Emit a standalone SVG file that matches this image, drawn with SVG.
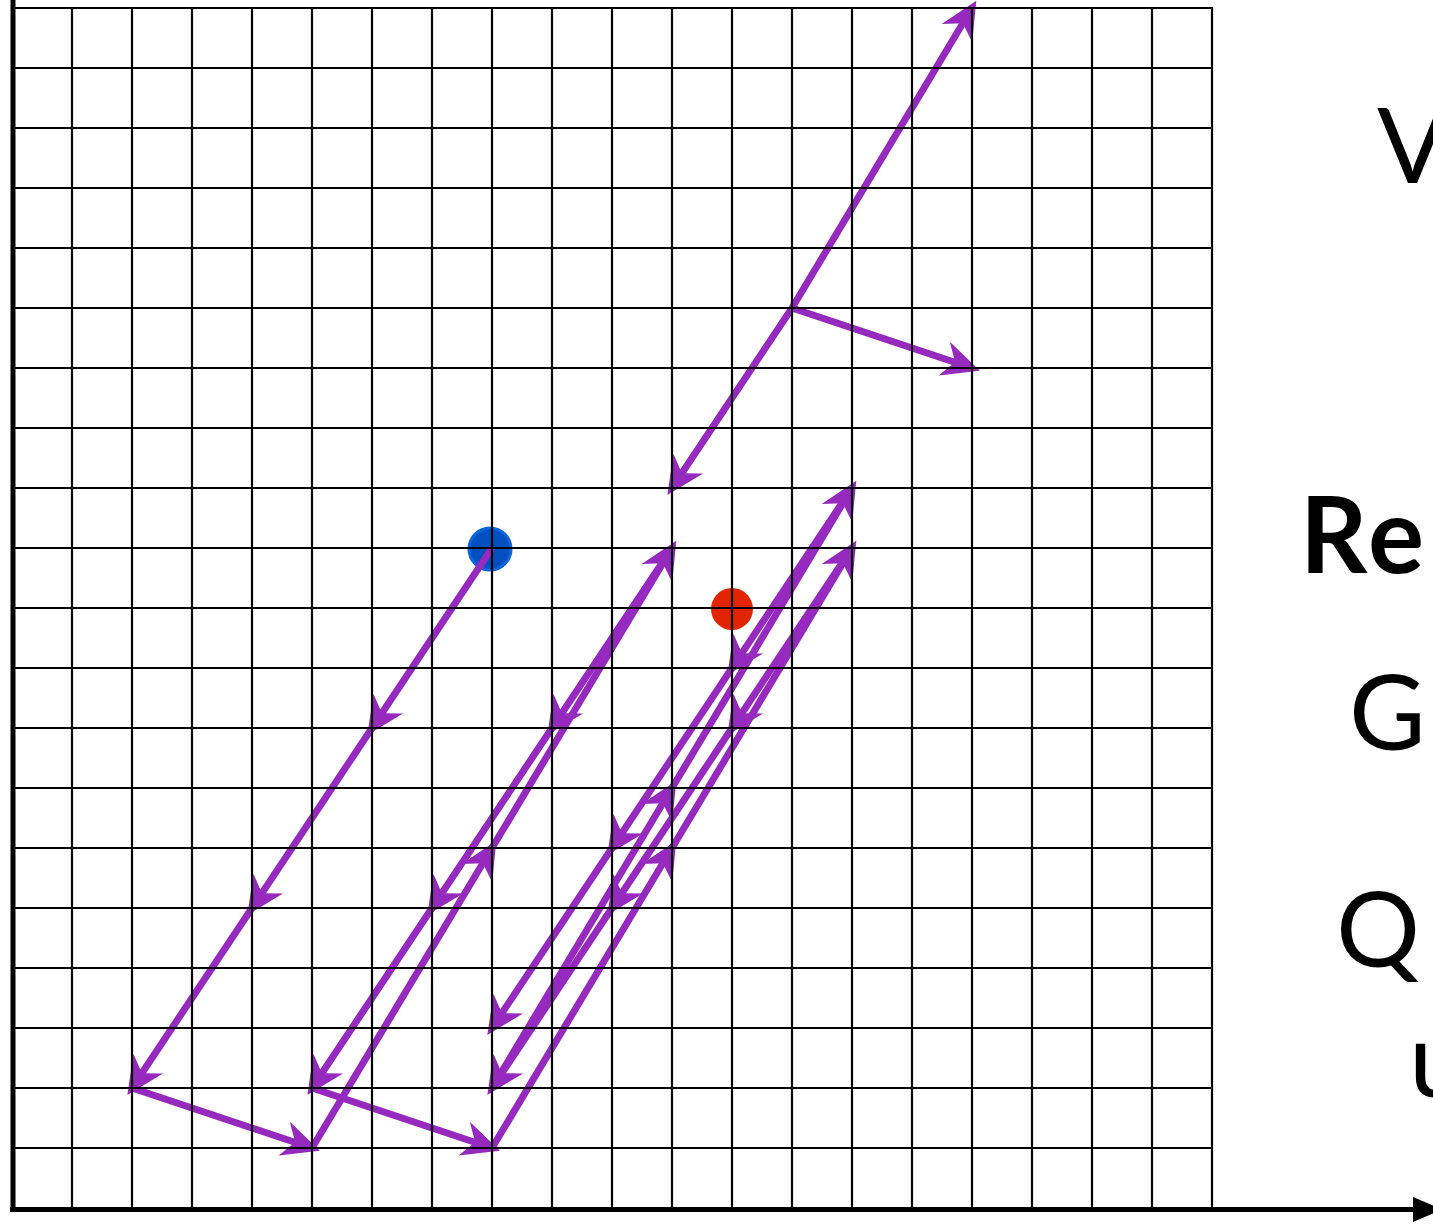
<svg xmlns="http://www.w3.org/2000/svg" width="1433" height="1224" viewBox="0 0 1433 1224">
<style>
.v{stroke:#962abf;stroke-width:7;fill:none;marker-end:url(#ah)}
.g{stroke:#000;stroke-width:2.2}
.ax{stroke:#000;stroke-width:5}
.t{font-family:Lato,"Open Sans","DejaVu Sans",sans-serif;font-size:105px;fill:#000}
</style>
<defs>
<marker id="ah" markerUnits="userSpaceOnUse" markerWidth="44" markerHeight="44" viewBox="-40 -20 42 40" refX="-8" refY="0" orient="auto">
<path d="M0,0 L-36,-17 L-25,0 L-36,17 Z" fill="#962abf"/>
</marker>
</defs>
<rect width="1433" height="1224" fill="#fff"/>
<g id="start-point"><circle cx="490" cy="549" r="21" fill="#0050c2" stroke="#0a64dc" stroke-width="3"/></g>
<g id="target-point"><circle cx="732" cy="609" r="21" fill="#e32400"/></g>
<g id="connectors">
<path class="v" d="M492,548 L372,728"/>
<path class="v" d="M372,728 L252,908"/>
<path class="v" d="M252,908 L132,1088"/>
<path class="v" d="M132,1088 L312,1148"/>
<path class="v" d="M312,1148 L492,848"/>
<path class="v" d="M492,848 L672,548"/>
<path class="v" d="M672,548 L552,728"/>
<path class="v" d="M552,728 L432,908"/>
<path class="v" d="M432,908 L312,1088"/>
<path class="v" d="M312,1088 L492,1148"/>
<path class="v" d="M492,1148 L672,848"/>
<path class="v" d="M672,848 L852,548"/>
<path class="v" d="M852,548 L732,728"/>
<path class="v" d="M732,728 L612,908"/>
<path class="v" d="M612,908 L492,1088"/>
<path class="v" d="M492,1088 L672,788"/>
<path class="v" d="M672,788 L852,488"/>
<path class="v" d="M852,488 L732,668"/>
<path class="v" d="M732,668 L612,848"/>
<path class="v" d="M612,848 L492,1028"/>
<path class="v" d="M792,308 L672,488"/>
<path class="v" d="M792,308 L972,8"/>
<path class="v" d="M792,308 L972,368"/>
</g>
<g id="grid">
<path class="g" d="M72,8V1209M132,8V1209M192,8V1209M252,8V1209M312,8V1209M372,8V1209M432,8V1209M492,8V1209M552,8V1209M612,8V1209M672,8V1209M732,8V1209M792,8V1209M852,8V1209M912,8V1209M972,8V1209M1032,8V1209M1092,8V1209M1152,8V1209M1212,8V1209"/>
<path class="g" d="M12,8H1213M12,68H1213M12,128H1213M12,188H1213M12,248H1213M12,308H1213M12,368H1213M12,428H1213M12,488H1213M12,548H1213M12,608H1213M12,668H1213M12,728H1213M12,788H1213M12,848H1213M12,908H1213M12,968H1213M12,1028H1213M12,1088H1213M12,1148H1213"/>
</g>
<g id="axes">
<line class="ax" x1="13" y1="0" x2="13" y2="1212"/>
<line class="ax" x1="10" y1="1209.5" x2="1420" y2="1209.5"/>
<path d="M1413,1197 L1442,1209.5 L1413,1222 Z" fill="#000"/>
</g>
<g id="labels">
<text class="t" x="1300" y="573" font-weight="bold" font-size="110" letter-spacing="4">Re</text>
<text class="t" x="1377" y="183">V</text>
<text class="t" x="1349" y="750">G</text>
<text class="t" x="1336" y="967">Q</text>
<text class="t" x="1409" y="1097">u</text>
</g>
</svg>
